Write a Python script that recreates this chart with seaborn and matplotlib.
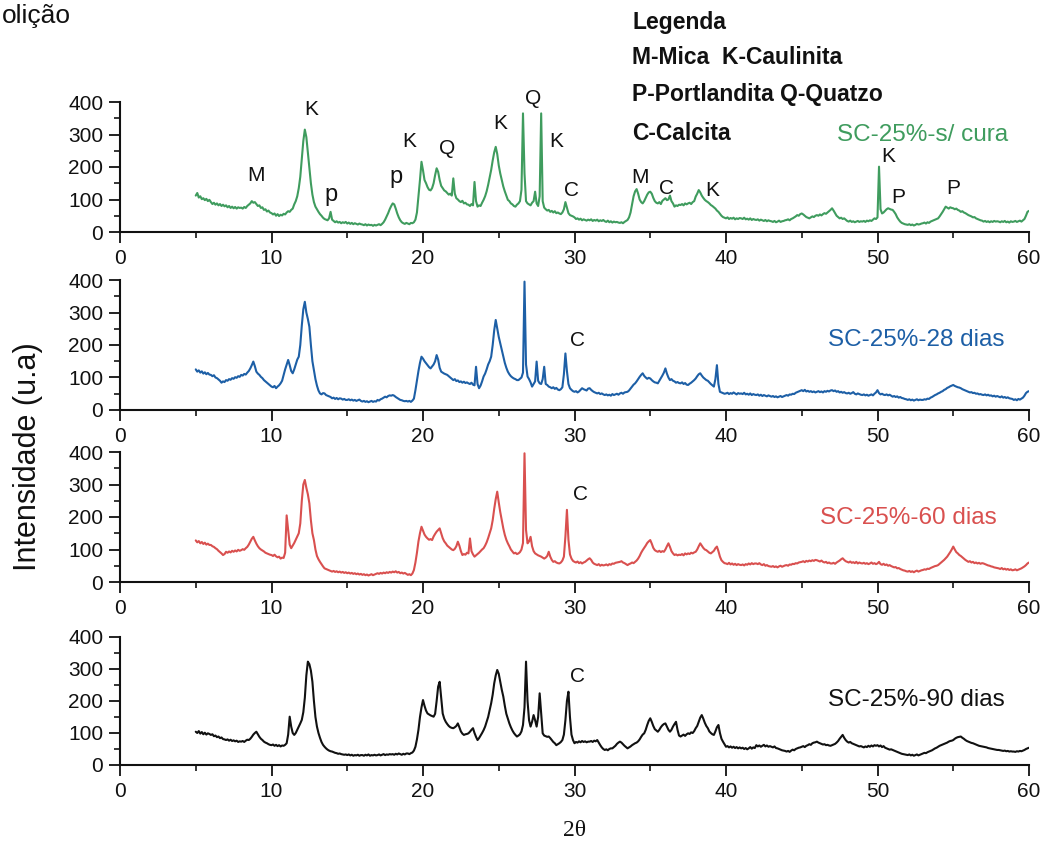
import numpy as np
import pandas as pd
import matplotlib
matplotlib.use("Agg")
import matplotlib.pyplot as plt
from matplotlib.ticker import MultipleLocator
import seaborn as sns

# 2-theta grid of the diffractograms (degrees)
two_theta = np.round(np.arange(5.0, 60.05, 0.1), 1)

# Intensities (u.a.), one row per degree: d.0, d.1, ... d.9
sem_cura = [
    112, 120, 106, 110, 101, 104, 98, 102, 95, 99,      # 5
    92, 86, 90, 84, 88, 82, 86, 80, 84, 79,             # 6
    82, 76, 80, 74, 78, 73, 77, 72, 76, 74,             # 7
    75, 72, 77, 74, 80, 84, 88, 95, 90, 92,             # 8
    86, 80, 82, 74, 76, 68, 70, 63, 66, 60,             # 9
    58, 54, 57, 50, 55, 49, 53, 51, 56, 54,             # 10
    60, 64, 62, 68, 72, 85, 95, 110, 135, 170,          # 11
    225, 280, 315, 292, 245, 195, 150, 115, 92, 78,     # 12
    70, 62, 55, 50, 44, 40, 38, 36, 42, 62,             # 13
    38, 34, 30, 33, 29, 31, 27, 30, 28, 31,             # 14
    26, 29, 25, 28, 24, 27, 25, 23, 26, 24,             # 15
    23, 21, 24, 20, 23, 21, 22, 19, 22, 20,             # 16
    22, 24, 21, 25, 30, 38, 48, 58, 70, 80,             # 17
    88, 85, 72, 57, 45, 36, 30, 27, 25, 28,             # 18
    26, 24, 28, 27, 30, 38, 60, 110, 160, 216,          # 19
    190, 160, 150, 138, 130, 128, 135, 150, 175, 196,   # 20
    185, 160, 142, 135, 128, 125, 120, 115, 118, 112,   # 21
    165, 118, 104, 100, 95, 92, 96, 88, 90, 85,         # 22
    84, 80, 86, 82, 154, 95, 78, 82, 80, 90,            # 23
    99, 110, 125, 145, 168, 191, 220, 245, 262, 240,    # 24
    205, 180, 160, 140, 125, 112, 99, 95, 88, 85,       # 25
    80, 78, 84, 88, 95, 130, 365, 180, 95, 88,          # 26
    85, 82, 90, 95, 124, 88, 80, 110, 365, 95,          # 27
    75, 70, 66, 68, 62, 65, 60, 64, 58, 60,             # 28
    57, 55, 60, 70, 92, 75, 58, 52, 50, 48,             # 29
    45, 40, 42, 38, 41, 36, 39, 37, 35, 38,             # 30
    36, 39, 34, 37, 35, 38, 33, 36, 34, 37,             # 31
    33, 31, 35, 30, 33, 29, 32, 30, 31, 29,             # 32
    28, 30, 27, 31, 34, 37, 45, 60, 85, 110,            # 33
    125, 132, 118, 100, 92, 88, 95, 105, 115, 122,      # 34
    124, 118, 105, 95, 90, 88, 92, 86, 96, 100,         # 35
    104, 98, 100, 112, 95, 88, 78, 82, 80, 84,          # 36
    83, 86, 82, 88, 85, 88, 90, 86, 92, 95,             # 37
    109, 118, 129, 122, 112, 105, 99, 95, 92, 88,       # 38
    83, 80, 76, 72, 66, 62, 56, 50, 46, 44,             # 39
    42, 45, 40, 43, 41, 44, 39, 42, 40, 43,             # 40
    42, 40, 44, 39, 41, 38, 42, 37, 40, 38,             # 41
    37, 39, 35, 38, 36, 34, 37, 33, 36, 34,             # 42
    33, 31, 34, 30, 32, 35, 31, 33, 34, 36,             # 43
    37, 39, 36, 40, 42, 45, 48, 52, 50, 55,             # 44
    57, 54, 50, 46, 44, 42, 45, 48, 46, 50,             # 45
    52, 50, 54, 51, 55, 58, 56, 60, 64, 68,             # 46
    73, 66, 58, 50, 46, 42, 44, 40, 42, 38,             # 47
    34, 32, 35, 31, 33, 30, 32, 34, 31, 33,             # 48
    32, 34, 31, 35, 33, 36, 34, 38, 42, 40,             # 49
    45, 201, 70, 57, 60, 65, 70, 73, 71, 69,            # 50
    68, 62, 55, 45, 38, 32, 28, 26, 24, 23,             # 51
    22, 24, 21, 23, 20, 22, 25, 23, 24, 26,             # 52
    27, 29, 26, 30, 28, 32, 34, 36, 38, 40,             # 53
    42, 48, 55, 62, 70, 78, 75, 72, 76, 74,             # 54
    73, 70, 72, 68, 66, 62, 64, 60, 58, 55,             # 55
    52, 50, 48, 45, 46, 42, 40, 38, 36, 35,             # 56
    32, 34, 31, 33, 30, 33, 31, 34, 32, 33,             # 57
    32, 30, 33, 31, 34, 30, 32, 29, 33, 31,             # 58
    32, 34, 31, 33, 35, 32, 36, 40, 50, 62,             # 59
    65,                                                 # 60
]

dias_28 = [
    125, 118, 122, 115, 119, 112, 116, 110, 114, 109,   # 5
    108, 104, 107, 100, 98, 94, 90, 84, 88, 86,         # 6
    92, 90, 95, 93, 98, 96, 101, 99, 104, 102,          # 7
    108, 106, 111, 109, 115, 120, 128, 138, 149, 135,   # 8
    118, 112, 108, 102, 98, 92, 88, 84, 80, 76,         # 9
    72, 70, 74, 67, 72, 76, 82, 90, 108, 125,           # 10
    140, 154, 138, 120, 113, 125, 140, 155, 164, 200,   # 11
    260, 310, 333, 300, 280, 256, 200, 150, 123, 95,    # 12
    75, 60, 51, 48, 52, 51, 46, 44, 42, 40,             # 13
    36, 38, 34, 37, 33, 36, 35, 32, 34, 31,             # 14
    31, 33, 30, 32, 29, 31, 28, 30, 32, 28,             # 15
    26, 28, 25, 27, 24, 26, 28, 25, 27, 26,             # 16
    31, 29, 33, 35, 38, 41, 39, 43, 45, 44,             # 17
    46, 44, 40, 37, 34, 31, 30, 28, 27, 28,             # 18
    26, 28, 25, 29, 35, 61, 90, 120, 145, 164,          # 19
    158, 150, 144, 138, 132, 128, 134, 140, 150, 169,   # 20
    155, 130, 118, 115, 112, 110, 108, 104, 100, 96,    # 21
    92, 95, 89, 91, 86, 88, 84, 87, 83, 85,             # 22
    82, 80, 84, 78, 76, 133, 80, 67, 75, 88,            # 23
    103, 112, 125, 140, 150, 164, 200, 245, 277, 250,   # 24
    225, 205, 185, 165, 145, 130, 118, 110, 104, 100,   # 25
    97, 95, 92, 92, 96, 100, 115, 395, 140, 103,        # 26
    95, 85, 72, 80, 88, 149, 90, 82, 80, 95,            # 27
    133, 80, 77, 72, 70, 67, 70, 65, 68, 63,            # 28
    61, 64, 70, 110, 174, 120, 80, 67, 62, 58,          # 29
    56, 58, 54, 57, 62, 67, 64, 62, 60, 66,             # 30
    67, 62, 58, 55, 53, 51, 53, 49, 51, 48,             # 31
    46, 48, 45, 47, 44, 49, 46, 48, 50, 47,             # 32
    51, 53, 50, 54, 55, 56, 60, 66, 72, 78,             # 33
    82, 88, 95, 102, 108, 113, 105, 100, 96, 99,        # 34
    97, 92, 88, 85, 84, 82, 90, 98, 106, 115,           # 35
    128, 112, 100, 92, 95, 90, 88, 84, 86, 83,          # 36
    82, 85, 80, 83, 78, 77, 81, 84, 88, 92,             # 37
    97, 104, 110, 113, 106, 100, 96, 92, 90, 85,        # 38
    80, 76, 72, 95, 138, 80, 56, 54, 52, 50,            # 39
    51, 53, 49, 52, 50, 54, 51, 48, 52, 50,             # 40
    51, 49, 53, 48, 50, 47, 51, 46, 49, 47,             # 41
    46, 48, 44, 47, 43, 46, 44, 42, 45, 43,             # 42
    41, 43, 40, 42, 39, 41, 43, 40, 42, 44,             # 43
    46, 44, 48, 47, 50, 49, 53, 55, 57, 59,             # 44
    61, 58, 62, 57, 59, 56, 58, 55, 57, 54,             # 45
    56, 58, 55, 57, 54, 58, 56, 59, 57, 60,             # 46
    61, 58, 60, 56, 58, 54, 56, 53, 55, 52,             # 47
    51, 53, 50, 52, 55, 50, 48, 51, 49, 47,             # 48
    46, 48, 45, 47, 44, 46, 48, 45, 50, 54,             # 49
    61, 52, 48, 50, 47, 46, 48, 45, 47, 44,             # 50
    41, 43, 40, 42, 38, 40, 37, 36, 34, 33,             # 51
    31, 33, 30, 32, 29, 31, 33, 30, 32, 31,             # 52
    31, 33, 32, 35, 34, 38, 40, 43, 46, 48,             # 53
    51, 53, 56, 58, 62, 64, 68, 70, 73, 75,             # 54
    77, 74, 72, 70, 69, 67, 64, 62, 60, 58,             # 55
    56, 54, 55, 52, 53, 50, 51, 48, 49, 47,             # 56
    46, 48, 45, 47, 44, 45, 42, 44, 41, 43,             # 57
    41, 39, 42, 38, 40, 37, 39, 36, 35, 34,             # 58
    31, 33, 30, 34, 32, 35, 38, 44, 52, 56,             # 59
    58,                                                 # 60
]

dias_60 = [
    128, 122, 126, 119, 123, 117, 121, 115, 118, 114,   # 5
    114, 110, 108, 104, 101, 96, 92, 88, 83, 86,        # 6
    93, 90, 94, 91, 96, 93, 97, 94, 99, 96,             # 7
    98, 101, 99, 104, 108, 115, 124, 133, 139, 128,     # 8
    118, 110, 104, 100, 97, 94, 90, 88, 86, 84,         # 9
    83, 80, 84, 79, 76, 78, 72, 75, 74, 90,             # 10
    205, 160, 115, 104, 112, 120, 130, 140, 150, 180,   # 11
    250, 300, 314, 290, 270, 242, 190, 150, 129, 100,   # 12
    80, 70, 62, 55, 48, 42, 40, 38, 36, 34,             # 13
    32, 34, 31, 33, 30, 32, 29, 31, 28, 30,             # 14
    27, 29, 26, 28, 25, 27, 24, 26, 23, 25,             # 15
    22, 24, 21, 23, 20, 22, 24, 21, 23, 25,             # 16
    27, 25, 28, 26, 29, 27, 30, 28, 31, 29,             # 17
    32, 30, 33, 29, 31, 27, 29, 26, 28, 25,             # 18
    22, 24, 21, 26, 37, 60, 90, 125, 150, 170,          # 19
    158, 146, 139, 134, 130, 132, 129, 140, 148, 155,   # 20
    160, 165, 150, 135, 125, 119, 112, 108, 104, 100,   # 21
    98, 102, 110, 124, 112, 95, 83, 86, 84, 90,         # 22
    88, 134, 95, 85, 78, 82, 86, 90, 95, 100,           # 23
    104, 112, 122, 135, 150, 165, 190, 225, 255, 278,   # 24
    245, 215, 190, 165, 145, 130, 119, 110, 100, 94,    # 25
    88, 90, 86, 88, 92, 100, 120, 396, 160, 119,        # 26
    125, 139, 110, 95, 88, 85, 82, 80, 78, 75,          # 27
    72, 75, 80, 93, 78, 68, 62, 64, 60, 58,             # 28
    57, 60, 66, 78, 140, 222, 130, 85, 72, 65,          # 29
    62, 60, 63, 58, 61, 57, 60, 62, 66, 70,             # 30
    73, 68, 60, 56, 54, 52, 55, 50, 53, 51,             # 31
    52, 54, 51, 55, 53, 57, 56, 59, 60, 61,             # 32
    62, 64, 60, 58, 55, 52, 55, 57, 60, 58,             # 33
    62, 66, 72, 80, 90, 98, 105, 112, 120, 125,         # 34
    129, 118, 105, 98, 95, 93, 96, 92, 95, 93,          # 35
    100, 110, 119, 108, 95, 88, 83, 85, 82, 84,         # 36
    83, 86, 82, 88, 85, 88, 86, 90, 88, 91,             # 37
    93, 100, 110, 119, 112, 105, 100, 98, 94, 90,       # 38
    88, 92, 96, 104, 109, 95, 78, 67, 62, 58,           # 39
    57, 55, 59, 54, 57, 53, 56, 52, 55, 53,             # 40
    52, 54, 51, 55, 53, 57, 54, 58, 55, 57,             # 41
    57, 55, 58, 54, 52, 55, 50, 52, 49, 48,             # 42
    47, 49, 46, 48, 45, 48, 50, 47, 49, 51,             # 43
    52, 50, 54, 53, 56, 55, 58, 57, 60, 61,             # 44
    62, 64, 61, 65, 63, 66, 64, 67, 65, 68,             # 45
    67, 65, 63, 66, 62, 60, 62, 58, 60, 57,             # 46
    57, 59, 56, 60, 63, 66, 70, 73, 68, 64,             # 47
    62, 60, 63, 59, 61, 58, 62, 57, 60, 58,             # 48
    57, 59, 56, 58, 55, 57, 60, 56, 58, 55,             # 49
    57, 62, 55, 53, 56, 52, 54, 50, 52, 49,             # 50
    47, 45, 46, 42, 43, 40, 38, 36, 35, 33,             # 51
    32, 34, 31, 33, 30, 33, 35, 32, 34, 36,             # 52
    37, 39, 38, 41, 40, 43, 45, 47, 49, 50,             # 53
    52, 56, 60, 64, 68, 73, 78, 85, 92, 100,            # 54
    109, 100, 92, 88, 83, 80, 76, 72, 68, 65,           # 55
    62, 64, 60, 62, 58, 60, 57, 59, 56, 58,             # 56
    57, 55, 53, 51, 50, 48, 47, 45, 44, 43,             # 57
    42, 40, 43, 39, 41, 38, 40, 37, 39, 36,             # 58
    37, 39, 36, 38, 40, 42, 45, 48, 52, 57,             # 59
    60,                                                 # 60
]

dias_90 = [
    104, 100, 106, 98, 103, 96, 101, 95, 99, 97,        # 5
    94, 96, 90, 92, 87, 89, 84, 86, 81, 80,             # 6
    78, 80, 76, 79, 75, 77, 74, 76, 72, 74,             # 7
    73, 75, 72, 76, 79, 78, 82, 88, 95, 100,            # 8
    104, 96, 88, 82, 78, 73, 70, 68, 65, 63,            # 9
    62, 64, 60, 63, 59, 62, 58, 61, 60, 63,             # 10
    68, 95, 151, 120, 100, 94, 100, 110, 120, 130,      # 11
    141, 165, 210, 280, 323, 315, 295, 260, 200, 150,   # 12
    120, 100, 85, 72, 63, 57, 52, 48, 45, 43,           # 13
    42, 40, 38, 37, 35, 36, 34, 33, 32, 33,             # 14
    31, 33, 30, 32, 29, 31, 30, 32, 29, 31,             # 15
    31, 29, 32, 30, 33, 29, 31, 30, 32, 30,             # 16
    31, 33, 30, 32, 34, 31, 33, 32, 34, 33,             # 17
    34, 32, 35, 33, 36, 34, 32, 35, 33, 36,             # 18
    36, 34, 37, 39, 45, 57, 80, 110, 150, 180,          # 19
    203, 185, 170, 161, 158, 155, 153, 151, 160, 200,   # 20
    245, 260, 210, 161, 145, 135, 128, 122, 118, 116,   # 21
    115, 118, 122, 130, 118, 105, 98, 94, 96, 97,       # 22
    99, 104, 110, 115, 100, 88, 78, 84, 92, 100,        # 23
    109, 120, 135, 150, 172, 193, 220, 255, 280, 297,   # 24
    285, 260, 235, 214, 185, 160, 145, 130, 118, 108,   # 25
    100, 94, 89, 92, 96, 105, 125, 180, 323, 200,       # 26
    140, 120, 135, 156, 140, 120, 150, 224, 160, 99,    # 27
    92, 90, 88, 89, 84, 78, 72, 68, 62, 65,             # 28
    68, 72, 78, 95, 140, 200, 229, 150, 95, 78,         # 29
    68, 72, 70, 74, 71, 75, 72, 74, 71, 73,             # 30
    73, 75, 72, 76, 74, 78, 70, 62, 55, 50,             # 31
    47, 49, 46, 50, 52, 52, 56, 60, 66, 70,             # 32
    73, 70, 65, 60, 56, 52, 55, 58, 62, 65,             # 33
    68, 70, 74, 80, 88, 95, 99, 110, 125, 138,          # 34
    146, 135, 122, 112, 108, 104, 110, 118, 124, 128,   # 35
    130, 120, 110, 104, 110, 120, 128, 135, 110, 92,    # 36
    89, 92, 95, 91, 96, 99, 97, 102, 100, 106,          # 37
    115, 122, 135, 148, 156, 145, 132, 122, 115, 105,   # 38
    100, 96, 94, 105, 118, 125, 100, 82, 73, 65,        # 39
    57, 59, 55, 58, 54, 57, 53, 56, 52, 55,             # 40
    52, 54, 50, 53, 49, 52, 56, 51, 55, 53,             # 41
    62, 58, 61, 57, 60, 63, 58, 61, 57, 59,             # 42
    57, 55, 58, 53, 52, 50, 48, 46, 45, 44,             # 43
    42, 44, 41, 45, 48, 46, 50, 52, 54, 55,             # 44
    57, 59, 56, 60, 62, 65, 63, 68, 70, 71,             # 45
    73, 70, 68, 66, 64, 65, 62, 63, 61, 60,             # 46
    62, 64, 66, 70, 75, 82, 88, 94, 85, 78,             # 47
    73, 70, 72, 68, 66, 64, 62, 60, 58, 59,             # 48
    57, 55, 58, 56, 60, 57, 61, 58, 62, 60,             # 49
    62, 58, 61, 56, 59, 54, 52, 50, 48, 49,             # 50
    47, 45, 43, 41, 39, 37, 35, 34, 33, 32,             # 51
    31, 33, 30, 32, 29, 31, 33, 30, 32, 34,             # 52
    36, 38, 37, 40, 42, 44, 46, 49, 52, 54,             # 53
    57, 60, 62, 64, 66, 68, 70, 73, 75, 76,             # 54
    78, 82, 85, 87, 88, 89, 85, 82, 78, 75,             # 55
    73, 71, 69, 68, 66, 64, 62, 60, 59, 58,             # 56
    57, 56, 55, 53, 52, 51, 50, 49, 48, 47,             # 57
    47, 46, 45, 44, 45, 43, 44, 42, 43, 42,             # 58
    42, 41, 43, 42, 44, 43, 45, 47, 50, 52,             # 59
    54,                                                 # 60
]

series_names = ["SC-25%-s/ cura", "SC-25%-28 dias", "SC-25%-60 dias", "SC-25%-90 dias"]
series_values = [sem_cura, dias_28, dias_60, dias_90]
series_colors = ["#3f9c5e", "#1d5fa6", "#d9504f", "#111111"]

# Phase identification letters on the uncured sample
phase_letters = ["M", "K", "p", "p", "K", "Q", "K", "Q", "K", "C", "M", "C", "K", "K", "P", "P"]
phase_angles = [9.0, 12.6, 13.9, 18.2, 19.1, 21.6, 25.1, 27.3, 28.8, 29.8, 34.3, 36.1, 39.1, 50.7, 51.4, 55.0]
phase_heights = [175, 378, 114, 169, 277, 258, 335, 412, 277, 129, 169, 135, 129, 231, 105, 135]

# Calcite mark on the cured samples
calcite_angles = [30.2, 30.4, 30.2]
calcite_heights = [215, 268, 275]

legend_lines = ["Legenda", "M-Mica  K-Caulinita", "P-Portlandita Q-Quatzo", "C-Calcita"]

x_ticks = [0, 10, 20, 30, 40, 50, 60]
y_ticks = [0, 100, 200, 300, 400]

frames = []
for name, vals in zip(series_names, series_values):
    frames.append(pd.DataFrame({"2theta": two_theta, "intensidade": vals, "amostra": name}))
df = pd.concat(frames, ignore_index=True)

sns.set_style("ticks")
plt.rcParams["font.family"] = ["Liberation Sans", "DejaVu Sans"]

W, H = 1049, 852
fig = plt.figure(figsize=(W / 100, H / 100), dpi=100)

# axes boxes in pixels: (top y of 400, bottom y of 0)
panel_px = [(102, 232), (280, 410), (452, 582), (637, 765)]
label_pos = [(47.3, 298), (46.7, 215), (46.2, 197), (46.7, 203)]
left_px, right_px = 120, 1029

axes = []
for i, (name, color) in enumerate(zip(series_names, series_colors)):
    top, bot = panel_px[i]
    ax = fig.add_axes([left_px / W, 1 - bot / H, (right_px - left_px) / W, (bot - top) / H])
    axes.append(ax)
    sns.lineplot(data=df[df["amostra"] == name], x="2theta", y="intensidade",
                 color=color, lw=1.5, ax=ax, legend=False)
    ax.set_xlim(0, 60)
    ax.set_ylim(0, 400)
    ax.set_xticks(x_ticks)
    ax.set_yticks(y_ticks)
    ax.xaxis.set_minor_locator(MultipleLocator(5))
    ax.yaxis.set_minor_locator(MultipleLocator(50))
    ax.tick_params(which="major", length=8, width=1.3, labelsize=15, pad=4, colors="#111111")
    ax.tick_params(which="minor", length=4.5, width=1.3)
    for s in ("top", "right"):
        ax.spines[s].set_visible(False)
    for s in ("left", "bottom"):
        ax.spines[s].set_linewidth(1.5)
        ax.spines[s].set_color("#111111")
    ax.set_xlabel("")
    ax.set_ylabel("")
    ax.patch.set_alpha(0)
    lx, ly = label_pos[i]
    ax.text(lx, ly, name, color=color, fontsize=17.5, ha="left", va="center")

for letter, xa, ya in zip(phase_letters, phase_angles, phase_heights):
    size = 17 if letter == "p" else 15
    axes[0].text(xa, ya, letter, fontsize=size, ha="center", va="center", color="#111111", clip_on=False)

for ax, xa, ya in zip(axes[1:], calcite_angles, calcite_heights):
    ax.text(xa, ya, "C", fontsize=15, ha="center", va="center", color="#111111", clip_on=False)

legend_y = [22, 58, 95, 133]
for txt, py in zip(legend_lines, legend_y):
    fig.text(632 / W, 1 - py / H, txt, fontsize=16.5, fontweight="bold", ha="left", va="center", color="#111111")

fig.text(2 / W, 1 - 4 / H, "olição", fontsize=19, ha="left", va="top", color="#111111")
fig.text(28 / W, 1 - 457 / H, "Intensidade (u.a)", fontsize=22, rotation=90, ha="center", va="center", color="#111111")
fig.text(575 / W, 1 - 830 / H, "2θ", fontsize=17, ha="center", va="center", color="#111111",
         family=["Liberation Serif", "DejaVu Serif"])

fig.savefig("out.png", dpi=100, facecolor="white")
